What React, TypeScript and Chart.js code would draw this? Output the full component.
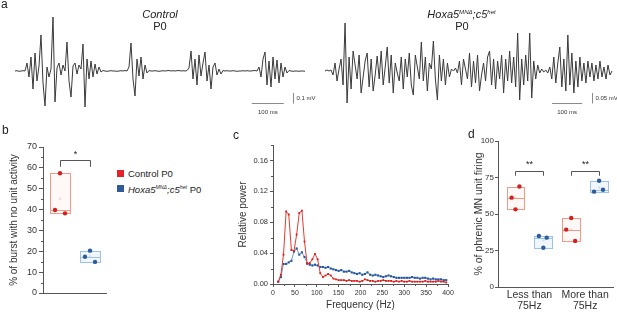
import React, { useEffect, useRef } from "react";
import { Chart, registerables } from "chart.js";

Chart.register(...registerables);

const FONT = "'Liberation Sans', Arial, Helvetica, sans-serif";
Chart.defaults.font.family = FONT;
Chart.defaults.color = "#333";

// ---------- Panel a: extracellular traces (µV), one sample every ~2 px ----------
const controlTraceStepMs = 6.25;
const controlTrace = [
  0, 3, -3, 0, 3, 0,
  80, -60, 140, -180, 180, -100,
  50, 360, -120, -350, 40, -60, 20,
  540, -310, 30, 80, -40, 60, 0,
  290, -100, -260, 50, 80, -30, 60, 20,
  270, -360, 120, -80, 100, -60, 70, -30, 40, -10, 5,
  0, -3, 0, 3, 0, 0, -3, 0, 3, 0, 5, 0,
  40, 280, -80, -250, 120, -50, 140, -80, 60, -20, 5,
  0, 0, 3, 0, -3, 0, 3, 0, 3, 5, 0, 3, 0, 3, 5, 0, 3, 0, 5,
  30, 200, -80, 120, -140, 160, -50, 80, 190, -100, 60, -180, 40, 80, -40, 20, -30, 5,
  0, 3, 0, 0, 3, 0, -3, 0, 0, 3, 0, 3, 0, 0, 3, 5, 0,
  40, -60, 120, 190, -140, 100, -160, 140, -80, 110, -120, 80, -60, 40, -20,
  5, 0, -3, 0, 0, -3, 0, 0, -3,
];
const hoxaTraceStepMs = 20 / 3;
const hoxaTrace = [
  0, 5, 0, 5,
  -20, 40, -50, 10, 60, -70,
  240, -160,
  70, -90, 100, 30, -40, 80, -110, -30,
  50, 90, -80, 60, -100, -20, 75, -40, 100, -70,
  20, 120, -60, 80, -110, 40, -10, -50, 70, -90,
  60, -30, 90, -70, -120, 80, 20, -40, 145, -50,
  70, -100, 40, 10, 150, -40, -145, 80, -50, 60,
  -70, 40, -30, 10, 0, 15, -10, 50, -70, 60,
  10, -40, 90, -80, 50, -60, 80, -100, -20, 40,
  -50, 70, 100, -70, 60, -90, 50, -40, 80, -110,
  60, -50, 100, -60, 70, -80, 190, -145, 60, -70,
  80, -50, 190, -135, 50, -40, 30, -10, 10, -5,
  5, -10, 20, -40, 70, -60, 40, 120, -80, 60,
  -100, 180, -70, 90, -110, 50, -80, 70, -50, 40,
  -60, 50, -30, 40, -50, 30, -40, 50, -30, 20,
  -40, 30, -20, 0,
];

// ---------- Panel b ----------
const burstGroups = ["Control P0", "Hoxa5 P0"];
const controlBurstNoUnit = [57.4, 39.8, 38.2];
const hoxaBurstNoUnit = [20.3, 17.4, 14.9];
const burstTicks = [0, 10, 20, 30, 40, 50, 60, 70];
const burstMinorTicks = [5, 15, 25, 35, 45, 55, 65];

// ---------- Panel c ----------
const freqHz = [
  12, 18, 24, 30, 36, 42, 48, 54, 60, 66, 72, 78, 84, 90, 96, 102, 108, 114, 120, 126,
  132, 138, 144, 150, 156, 162, 168, 174, 180, 186, 192, 198, 204, 210, 216, 222, 228, 234, 240, 246,
  252, 258, 264, 270, 276, 282, 288, 294, 300, 306, 312, 318, 324, 330, 336, 342, 348, 354, 360, 366,
  372, 378, 384, 390, 396,
];
const controlPower = [
  0.003, 0.012, 0.038, 0.094, 0.090, 0.044, 0.043, 0.064, 0.092, 0.095,
  0.055, 0.026, 0.027, 0.032, 0.039, 0.032, 0.014, 0.009, 0.011, 0.013,
  0.011, 0.007, 0.006, 0.005, 0.005, 0.005, 0.004, 0.005, 0.004, 0.004,
  0.004, 0.003, 0.004, 0.006, 0.005, 0.004, 0.004, 0.003, 0.004, 0.004,
  0.005, 0.004, 0.004, 0.004, 0.003, 0.004, 0.003, 0.004, 0.003, 0.003,
  0.004, 0.003, 0.003, 0.003, 0.003, 0.003, 0.004, 0.003, 0.003, 0.003,
  0.003, 0.004, 0.003, 0.003, 0.002,
];
const hoxaPower = [
  0.003, 0.009, 0.026, 0.026, 0.028, 0.030, 0.042, 0.046, 0.038, 0.041,
  0.035, 0.027, 0.025, 0.024, 0.025, 0.024, 0.022, 0.022, 0.021, 0.022,
  0.020, 0.019, 0.018, 0.017, 0.018, 0.016, 0.016, 0.017, 0.015, 0.014,
  0.013, 0.014, 0.012, 0.013, 0.015, 0.012, 0.011, 0.012, 0.011, 0.010,
  0.009, 0.010, 0.011, 0.010, 0.009, 0.008, 0.008, 0.008, 0.008, 0.008,
  0.008, 0.009, 0.008, 0.008, 0.007, 0.008, 0.008, 0.007, 0.006, 0.007,
  0.006, 0.006, 0.006, 0.005, 0.005,
];
const freqTicks = [0, 50, 100, 150, 200, 250, 300, 350, 400];
const freqMinorTicks = [25, 75, 125, 175, 225, 275, 325, 375];
const powerTicks = [0, 0.04, 0.08, 0.12, 0.16];
const powerMinorTicks = [0.02, 0.06, 0.1, 0.14, 0.18];

// ---------- Panel d ----------
const firingCategories = [["Less than", "75Hz"], ["More than", "75Hz"]];
const controlFiring = [[68.8, 61.2, 53.2], [47.3, 39.3, 31.5]];
const hoxaFiring = [[34.9, 33.8, 26.9], [72.8, 66.6, 65.3]];
const firingTicks = [0, 25, 50, 75, 100];

// ---------- styles ----------
const AXIS = "#555";
const RED_PT = "#d3201f";
const BLUE_PT = "#2a5c9e";
const RED_BOX = "#f09a8a";
const BLUE_BOX = "#9cc3e6";
const RED_FILL = "rgba(250,190,180,0.10)";
const BLUE_FILL = "rgba(190,215,240,0.22)";

type Box = { center: number; half: number; values: number[]; stroke: string; fill: string };
type Bracket = { x0: number; x1: number; top: number; leg: number; label: string; labelY: number };

function makeBoxPlugin(boxes: Box[]) {
  return {
    id: "boxes",
    beforeDatasetsDraw(chart: any) {
      const { ctx, scales } = chart;
      const x = scales.x, y = scales.y;
      boxes.forEach((b) => {
        const vals = [...b.values].sort((p, q) => p - q);
        const lo = vals[0], hi = vals[vals.length - 1];
        const med = vals[Math.floor(vals.length / 2)];
        const mean = vals.reduce((s, v) => s + v, 0) / vals.length;
        const xl = Math.round(x.getPixelForValue(b.center - b.half)) + 0.5;
        const xr = Math.round(x.getPixelForValue(b.center + b.half)) + 0.5;
        const yt = Math.round(y.getPixelForValue(hi)) + 0.5;
        const yb = Math.round(y.getPixelForValue(lo)) + 0.5;
        ctx.save();
        ctx.fillStyle = b.fill;
        ctx.fillRect(xl, yt, xr - xl, yb - yt);
        ctx.strokeStyle = b.stroke;
        ctx.lineWidth = 1;
        ctx.strokeRect(xl, yt, xr - xl, yb - yt);
        const ym = Math.round(y.getPixelForValue(med)) + 0.5;
        ctx.beginPath();
        ctx.moveTo(xl, ym);
        ctx.lineTo(xr, ym);
        ctx.stroke();
        ctx.globalAlpha = 0.35;
        ctx.fillStyle = b.stroke;
        ctx.beginPath();
        ctx.arc(x.getPixelForValue(b.center), y.getPixelForValue(mean), 1.3, 0, Math.PI * 2);
        ctx.fill();
        ctx.restore();
      });
    },
  };
}

function makeBracketPlugin(brackets: Bracket[]) {
  return {
    id: "brackets",
    afterDatasetsDraw(chart: any) {
      const { ctx, scales } = chart;
      const x = scales.x, y = scales.y;
      brackets.forEach((k) => {
        const a = Math.round(x.getPixelForValue(k.x0)) + 0.5;
        const b = Math.round(x.getPixelForValue(k.x1)) + 0.5;
        const t = Math.round(y.getPixelForValue(k.top)) + 0.5;
        const l = y.getPixelForValue(k.leg);
        ctx.save();
        ctx.strokeStyle = "#555";
        ctx.lineWidth = 1;
        ctx.beginPath();
        ctx.moveTo(a, l);
        ctx.lineTo(a, t);
        ctx.lineTo(b, t);
        ctx.lineTo(b, l);
        ctx.stroke();
        ctx.fillStyle = "#222";
        ctx.font = `9px ${FONT}`;
        ctx.textAlign = "center";
        ctx.textBaseline = "middle";
        ctx.fillText(k.label, (a + b) / 2, y.getPixelForValue(k.labelY));
        ctx.restore();
      });
    },
  };
}

function makeMinorTickPlugin(yVals: number[], xVals: number[], len: number) {
  return {
    id: "minorTicks",
    afterDraw(chart: any) {
      const { ctx, scales } = chart;
      ctx.save();
      ctx.strokeStyle = AXIS;
      ctx.lineWidth = 1;
      yVals.forEach((v) => {
        const py = Math.round(scales.y.getPixelForValue(v)) + 0.5;
        const ax = scales.y.right;
        ctx.beginPath();
        ctx.moveTo(ax - len, py);
        ctx.lineTo(ax, py);
        ctx.stroke();
      });
      xVals.forEach((v) => {
        const px = Math.round(scales.x.getPixelForValue(v)) + 0.5;
        const ay = scales.x.top;
        ctx.beginPath();
        ctx.moveTo(px, ay);
        ctx.lineTo(px, ay + len);
        ctx.stroke();
      });
      ctx.restore();
    },
  };
}

type Bar = { t0: number; t1: number; tv: number; v0: number; v1: number; timeLabel: string; voltLabel: string };
function makeScaleBarPlugin(o: Bar) {
  return {
    id: "scaleBar",
    afterDraw(chart: any) {
      const { ctx, scales } = chart;
      const x = scales.x, y = scales.y;
      const xa = x.getPixelForValue(o.t0), xb = x.getPixelForValue(o.t1);
      const yb = Math.round(y.getPixelForValue(o.v0)) + 0.5;
      const xv = Math.round(x.getPixelForValue(o.tv)) + 0.5;
      const yv = y.getPixelForValue(o.v1);
      ctx.save();
      ctx.strokeStyle = "#8a8a8a";
      ctx.lineWidth = 1;
      ctx.beginPath();
      ctx.moveTo(xa, yb);
      ctx.lineTo(xb, yb);
      ctx.stroke();
      ctx.beginPath();
      ctx.moveTo(xv, yb);
      ctx.lineTo(xv, yv);
      ctx.stroke();
      ctx.fillStyle = "#333";
      ctx.font = `6px ${FONT}`;
      ctx.textAlign = "center";
      ctx.textBaseline = "middle";
      ctx.fillText(o.timeLabel, (xa + xb) / 2, yb + 9);
      ctx.textAlign = "left";
      ctx.fillText(o.voltLabel, xv + 3, (yb + yv) / 2);
      ctx.restore();
    },
  };
}

function traceConfig(values: number[], step: number, yMin: number, yMax: number, padL: number, padR: number, bar: Bar) {
  return {
    type: "line",
    data: {
      datasets: [
        {
          data: values.map((v, i) => ({ x: i * step, y: v })),
          borderColor: "#3a3a3a",
          borderWidth: 1,
          pointRadius: 0,
          tension: 0,
          clip: false,
        },
      ],
    },
    options: {
      animation: false,
      responsive: false,
      events: [],
      layout: { padding: { left: padL, right: padR, top: 10, bottom: 15 } },
      scales: {
        x: { type: "linear", display: false, min: 0, max: (values.length - 1) * step },
        y: { display: false, min: yMin, max: yMax },
      },
      plugins: { legend: { display: false }, tooltip: { enabled: false } },
    },
    plugins: [makeScaleBarPlugin(bar)],
  };
}

function ChartBox({ x, y, w, h, make }: { x: number; y: number; w: number; h: number; make: () => any }) {
  const ref = useRef<HTMLCanvasElement>(null);
  useEffect(() => {
    const chart = new Chart(ref.current as HTMLCanvasElement, make());
    return () => chart.destroy();
  }, []);
  return (
    <canvas
      ref={ref}
      width={w}
      height={h}
      style={{ position: "absolute", left: x, top: y, width: w, height: h }}
    />
  );
}

function T({ x, y, size, children, anchor = "start", italic = false }: any) {
  return (
    <div
      style={{
        position: "absolute",
        left: x,
        top: y - size * 0.85,
        fontSize: size,
        lineHeight: `${size}px`,
        fontFamily: FONT,
        whiteSpace: "nowrap",
        color: "#222",
        fontStyle: italic ? "italic" : "normal",
        transform: anchor === "middle" ? "translateX(-50%)" : undefined,
      }}
    >
      {children}
    </div>
  );
}

const supStyle: any = { fontSize: "0.55em", verticalAlign: "baseline", position: "relative", top: "-0.75em" };

const yAxisCommon = (width: number, tickSize: number, tickLen: number, tickPad: number) => ({
  afterFit: (s: any) => {
    s.width = width;
  },
  ticks: { font: { size: tickSize, family: FONT }, color: "#333", padding: tickPad },
  grid: { display: true, drawOnChartArea: false, drawTicks: true, tickLength: tickLen, color: AXIS },
  border: { display: true, color: AXIS },
});

function makeB() {
  const jitter = [0, -0.167, 0.167];
  const groups = [controlBurstNoUnit, hoxaBurstNoUnit];
  return {
    type: "scatter",
    data: {
      datasets: groups.map((vals, g) => ({
        label: burstGroups[g],
        data: vals.map((v, i) => ({ x: g + 1 + jitter[i], y: v })),
        backgroundColor: g === 0 ? RED_PT : BLUE_PT,
        pointRadius: 2.2,
        borderWidth: 0,
      })),
    },
    options: {
      animation: false,
      responsive: false,
      events: [],
      layout: { padding: { top: 17, right: 6, left: 0, bottom: 0 } },
      scales: {
        x: {
          type: "linear",
          min: 0.433,
          max: 2.533,
          afterFit: (s: any) => {
            s.height = 19;
          },
          ticks: { display: false },
          grid: { display: false, drawTicks: false },
          border: { display: true, color: AXIS },
        },
        y: {
          min: 0,
          max: 70,
          ...yAxisCommon(43, 9, 4, 2),
          afterBuildTicks: (s: any) => {
            s.ticks = burstTicks.map((v) => ({ value: v }));
          },
          title: {
            display: true,
            text: "% of burst with no unit activity",
            font: { size: 10, family: FONT },
            color: "#333",
            padding: { top: 8, bottom: 0 },
          },
        },
      },
      plugins: { legend: { display: false }, tooltip: { enabled: false } },
    },
    plugins: [
      makeBoxPlugin([
        { center: 1, half: 0.333, values: controlBurstNoUnit, stroke: RED_BOX, fill: RED_FILL },
        { center: 2, half: 0.333, values: hoxaBurstNoUnit, stroke: BLUE_BOX, fill: BLUE_FILL },
      ]),
      makeBracketPlugin([{ x0: 1, x1: 2, top: 63.8, leg: 60.5, label: "*", labelY: 66.5 }]),
      makeMinorTickPlugin(burstMinorTicks, [], 2),
    ],
  };
}

function makeC() {
  return {
    type: "line",
    data: {
      datasets: [
        {
          label: "Control P0",
          data: freqHz.map((f, i) => ({ x: f, y: controlPower[i] })),
          borderColor: "#e63a2e",
          backgroundColor: "#d42020",
          borderWidth: 1,
          pointStyle: "rect",
          pointRadius: 1.3,
          pointBorderWidth: 0,
          tension: 0,
        },
        {
          label: "Hoxa5 P0",
          data: freqHz.map((f, i) => ({ x: f, y: hoxaPower[i] })),
          borderColor: "#4a7cc0",
          backgroundColor: "#22559c",
          borderWidth: 0.8,
          pointStyle: "rect",
          pointRadius: 1.5,
          pointBorderWidth: 0,
          tension: 0,
        },
      ],
    },
    options: {
      animation: false,
      responsive: false,
      events: [],
      layout: { padding: { top: 15, right: 12, left: 0, bottom: 0 } },
      scales: {
        x: {
          type: "linear",
          min: 0,
          max: 400,
          afterFit: (s: any) => {
            s.height = 28;
          },
          afterBuildTicks: (s: any) => {
            s.ticks = freqTicks.map((v) => ({ value: v }));
          },
          ticks: { font: { size: 7, family: FONT }, color: "#333", padding: 2, maxRotation: 0 },
          grid: { display: true, drawOnChartArea: false, drawTicks: true, tickLength: 3, color: AXIS },
          border: { display: true, color: AXIS },
          title: {
            display: true,
            text: "Frequency (Hz)",
            font: { size: 10, family: FONT },
            color: "#333",
            padding: { top: 0, bottom: 1 },
          },
        },
        y: {
          min: 0,
          max: 0.18,
          ...yAxisCommon(48, 7.5, 3, 2),
          afterBuildTicks: (s: any) => {
            s.ticks = powerTicks.map((v) => ({ value: v }));
          },
          ticks: {
            font: { size: 7.5, family: FONT },
            color: "#333",
            padding: 2,
            callback: (v: any) => Number(v).toFixed(2),
          },
          title: {
            display: true,
            text: "Relative power",
            font: { size: 10, family: FONT },
            color: "#333",
            padding: { top: 12, bottom: 0 },
          },
        },
      },
      plugins: { legend: { display: false }, tooltip: { enabled: false } },
    },
    plugins: [makeMinorTickPlugin(powerMinorTicks, freqMinorTicks, 2)],
  };
}

function makeD() {
  const off = 0.25;
  const half = 0.16;
  const redJit = [[0.07, -0.07, 0], [0, -0.09, 0.07]];
  const blueJit = [[-0.08, 0.06, 0], [0, 0.07, -0.09]];
  const redPts: any[] = [];
  const bluePts: any[] = [];
  controlFiring.forEach((vals, c) => vals.forEach((v, i) => redPts.push({ x: c + 1 - off + redJit[c][i], y: v })));
  hoxaFiring.forEach((vals, c) => vals.forEach((v, i) => bluePts.push({ x: c + 1 + off + blueJit[c][i], y: v })));
  const boxes: Box[] = [];
  firingCategories.forEach((_, c) => {
    boxes.push({ center: c + 1 - off, half, values: controlFiring[c], stroke: RED_BOX, fill: RED_FILL });
    boxes.push({ center: c + 1 + off, half, values: hoxaFiring[c], stroke: BLUE_BOX, fill: BLUE_FILL });
  });
  return {
    type: "scatter",
    data: {
      datasets: [
        { label: "Control P0", data: redPts, backgroundColor: RED_PT, pointRadius: 2.2, borderWidth: 0 },
        { label: "Hoxa5 P0", data: bluePts, backgroundColor: BLUE_PT, pointRadius: 2.2, borderWidth: 0 },
      ],
    },
    options: {
      animation: false,
      responsive: false,
      events: [],
      layout: { padding: { top: 11, right: 2, left: 0, bottom: 0 } },
      scales: {
        x: {
          type: "linear",
          min: 0.436,
          max: 2.5,
          afterFit: (s: any) => {
            s.height = 25;
          },
          afterBuildTicks: (s: any) => {
            s.ticks = firingCategories.map((_, i) => ({ value: i + 1 }));
          },
          ticks: {
            font: { size: 10.5, family: FONT, lineHeight: 1.05 },
            color: "#333",
            padding: 3,
            maxRotation: 0,
            callback: (v: any) => firingCategories[Math.round(Number(v)) - 1] || "",
          },
          grid: { display: false, drawTicks: false },
          border: { display: true, color: AXIS },
        },
        y: {
          min: 0,
          max: 100,
          ...yAxisCommon(43, 8, 3, 1),
          afterBuildTicks: (s: any) => {
            s.ticks = firingTicks.map((v) => ({ value: v }));
          },
          title: {
            display: true,
            text: "% of phrenic MN unit firing",
            font: { size: 10.5, family: FONT },
            color: "#333",
            padding: { top: 18, bottom: 0 },
          },
        },
      },
      plugins: { legend: { display: false }, tooltip: { enabled: false } },
    },
    plugins: [
      makeBoxPlugin(boxes),
      makeBracketPlugin([
        { x0: 1 - off, x1: 1 + off, top: 79.7, leg: 76.2, label: "**", labelY: 84 },
        { x0: 2 - off, x1: 2 + off, top: 79.7, leg: 76.2, label: "**", labelY: 84 },
      ]),
    ],
  };
}

export default function App() {
  return (
    <div style={{ position: "absolute", left: 0, top: 0, width: 617, height: 312, background: "#fff", overflow: "hidden" }}>
      <ChartBox
        x={0}
        y={0}
        w={320}
        h={125}
        make={() =>
          traceConfig(controlTrace, controlTraceStepMs, -390, 610, 15, 15, {
            t0: 740, t1: 840, tv: 870, v0: -320, v1: -220, timeLabel: "100 ms", voltLabel: "0.1 mV",
          })
        }
      />
      <ChartBox
        x={318}
        y={0}
        w={299}
        h={125}
        make={() =>
          traceConfig(hoxaTrace, hoxaTraceStepMs, -195, 305, 7, 5, {
            t0: 754, t1: 854, tv: 887, v0: -160, v1: -110, timeLabel: "100 ms", voltLabel: "0.05 mV",
          })
        }
      />
      <ChartBox x={0} y={130} w={112} h={182} make={makeB} />
      <ChartBox x={225} y={130} w={235} h={182} make={makeC} />
      <ChartBox x={455} y={130} w={162} h={182} make={makeD} />

      <T x={1} y={8} size={12}>a</T>
      <T x={2} y={134} size={12}>b</T>
      <T x={233} y={139} size={12}>c</T>
      <T x={468} y={138} size={12}>d</T>

      <T x={160} y={18.5} size={11} anchor="middle" italic>Control</T>
      <T x={160} y={30} size={11} anchor="middle">P0</T>
      <T x={461.5} y={18.5} size={11} anchor="middle" italic>
        Hoxa5<span style={supStyle}>MNΔ</span>;c5<span style={supStyle}>het</span>
      </T>
      <T x={462} y={30} size={11} anchor="middle">P0</T>

      <div style={{ position: "absolute", left: 117, top: 169.5, width: 7, height: 7, background: "#e8202a" }} />
      <T x={128} y={177} size={9.5}>Control P0</T>
      <div style={{ position: "absolute", left: 117, top: 184.5, width: 7, height: 7, background: "#2f5b9a" }} />
      <T x={128} y={193} size={9.5}>
        <i>Hoxa5</i>
        <i style={supStyle}>MNΔ</i>
        <i>;c5</i>
        <i style={supStyle}>het</i> P0
      </T>
    </div>
  );
}
